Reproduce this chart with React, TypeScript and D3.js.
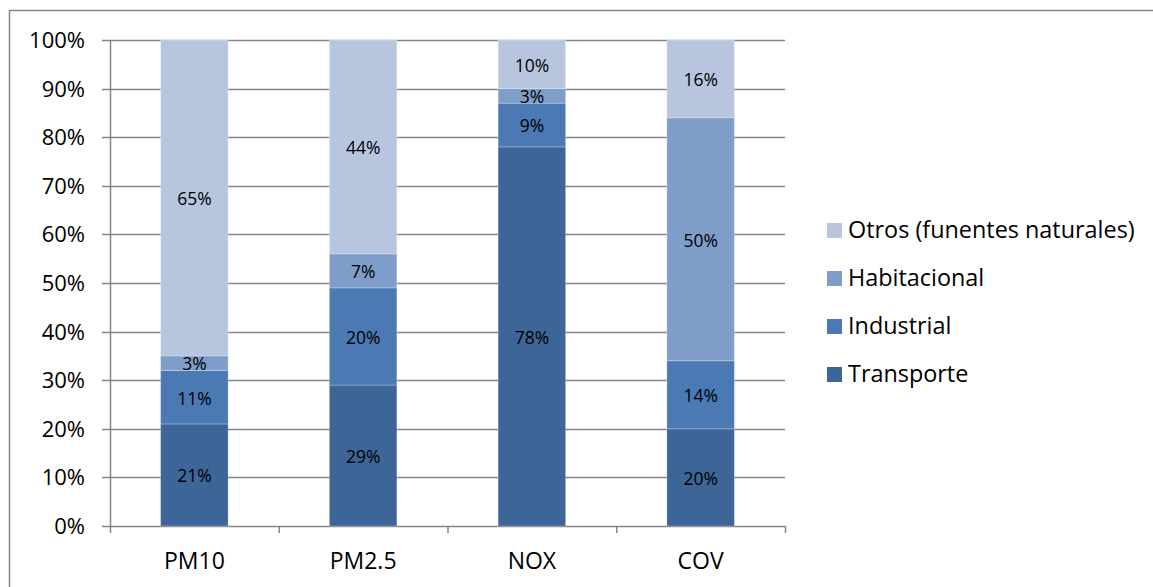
import React from "react";
import * as d3 from "d3";

const categories = ["PM10", "PM2.5", "NOX", "COV"];
const seriesNames = ["Transporte", "Industrial", "Habitacional", "Otros (funentes naturales)"];
const transporte = [21, 29, 78, 20];
const industrial = [11, 20, 9, 14];
const habitacional = [3, 7, 3, 50];
const otros = [65, 44, 10, 16];
const yTicks = [0, 10, 20, 30, 40, 50, 60, 70, 80, 90, 100];
const colors = ["#3d6597", "#4a79b3", "#7e9dc9", "#b7c5df"];

const FONT = "'Open Sans', sans-serif";

export default function App() {
  const W = 1153, H = 587;
  const left = 110, right = 785, top = 40, bottom = 526;
  const x = d3.scaleBand<string>().domain(categories).range([left, right]).paddingInner(0.6).paddingOuter(0.3);
  const xb = d3.scaleBand<string>().domain(categories).range([left, right]);
  const y = d3.scaleLinear().domain([0, 100]).range([bottom, top]);
  const table = categories.map((c, i) => ({ cat: c, Transporte: transporte[i], Industrial: industrial[i], Habitacional: habitacional[i], "Otros (funentes naturales)": otros[i] }));
  const stacked = d3.stack<any>().keys(seriesNames)(table);
  const gray = "#868686";

  return (
    <svg width={W} height={H} style={{ position: "absolute", left: 0, top: 0, background: "#fff" }} fontFamily={FONT}>
      <rect x={9.5} y={10.5} width={W + 10} height={H + 10} fill="#fff" stroke={gray} strokeWidth={1.5} />
      {yTicks.map((t) => (
        <g key={t}>
          <line x1={102} x2={right} y1={Math.round(y(t)) + 0.5} y2={Math.round(y(t)) + 0.5} stroke={gray} strokeWidth={1.5} />
          <text x={85} y={y(t)} dy="0.36em" textAnchor="end" fontSize={22} fill="#000">{t}%</text>
        </g>
      ))}
      <line x1={left + 0.5} x2={left + 0.5} y1={top} y2={bottom} stroke={gray} strokeWidth={1.5} />
      {[...categories.map((c) => xb(c)!), right].map((v, i) => (
        <line key={i} x1={v + 0.5} x2={v + 0.5} y1={bottom} y2={bottom + 7} stroke={gray} strokeWidth={1.5} />
      ))}
      {stacked.map((s, si) => (
        <g key={s.key}>
          {s.map((d, i) => (
            <g key={i}>
              <rect x={x(categories[i])!} y={y(d[1])} width={x.bandwidth()} height={y(d[0]) - y(d[1])} fill={colors[si]} stroke="rgba(255,255,255,0.25)" strokeWidth={1} />
              <text x={x(categories[i])! + x.bandwidth() / 2} y={(y(d[0]) + y(d[1])) / 2 + 1} dy="0.36em" textAnchor="middle" fontSize={17.5} fill="#000">{d[1] - d[0]}%</text>
            </g>
          ))}
        </g>
      ))}
      {categories.map((c) => (
        <text key={c} x={xb(c)! + xb.bandwidth() / 2} y={561} dy="0.36em" textAnchor="middle" fontSize={23} fill="#000">{c}</text>
      ))}
      {seriesNames.slice().reverse().map((n, i) => {
        const cy = 230 + i * 48;
        return (
          <g key={n}>
            <rect x={827} y={cy - 7} width={15} height={15} fill={colors[3 - i]} />
            <text x={848} y={cy} dy="0.36em" fontSize={23.4} fill="#000">{n}</text>
          </g>
        );
      })}
    </svg>
  );
}
